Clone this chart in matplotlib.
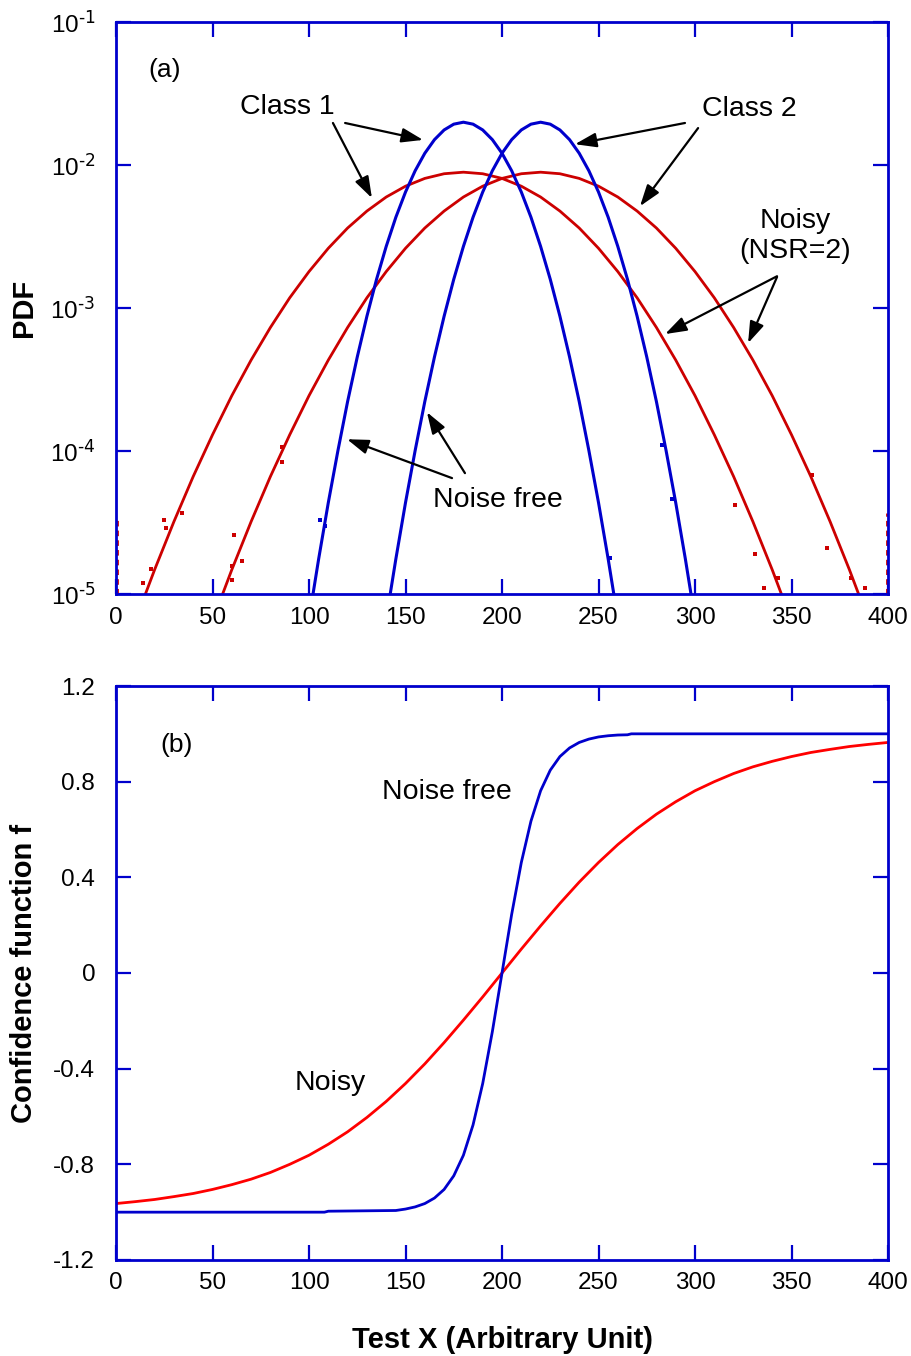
import numpy as np
import matplotlib
matplotlib.use("Agg")
import matplotlib.pyplot as plt
from matplotlib.ticker import FixedLocator, NullLocator, FixedFormatter

plt.rcParams['font.family'] = ['Liberation Sans', 'DejaVu Sans']
plt.rcParams['mathtext.default'] = 'regular'
plt.rcParams['axes.unicode_minus'] = False

BLUE = '#0000cc'
DARK_RED = '#cc0000'
RED = '#ff0000'

# ---- (a) class PDFs, noise free (blue) and noisy NSR=2 (red) ----
clean1_x = [100, 105, 110, 115, 120, 125, 130, 135, 140, 145, 150, 155, 160, 165, 170, 175,
            180, 185, 190, 195, 200, 205, 210, 215, 220, 225, 230, 235, 240, 245, 250, 255, 260]
clean1_pdf = [6.7e-6, 1.76e-5, 4.36e-5, 1.01e-4, 2.22e-4, 4.55e-4, 8.77e-4, 1.59e-3, 2.70e-3,
              4.32e-3, 6.48e-3, 9.13e-3, 1.21e-2, 1.506e-2, 1.761e-2, 1.933e-2, 1.995e-2,
              1.933e-2, 1.761e-2, 1.506e-2, 1.21e-2, 9.13e-3, 6.48e-3, 4.32e-3, 2.70e-3,
              1.59e-3, 8.77e-4, 4.55e-4, 2.22e-4, 1.01e-4, 4.36e-5, 1.76e-5, 6.7e-6]
clean2_x = [140, 145, 150, 155, 160, 165, 170, 175, 180, 185, 190, 195, 200, 205, 210, 215,
            220, 225, 230, 235, 240, 245, 250, 255, 260, 265, 270, 275, 280, 285, 290, 295, 300]
clean2_pdf = [6.7e-6, 1.76e-5, 4.36e-5, 1.01e-4, 2.22e-4, 4.55e-4, 8.77e-4, 1.59e-3, 2.70e-3,
              4.32e-3, 6.48e-3, 9.13e-3, 1.21e-2, 1.506e-2, 1.761e-2, 1.933e-2, 1.995e-2,
              1.933e-2, 1.761e-2, 1.506e-2, 1.21e-2, 9.13e-3, 6.48e-3, 4.32e-3, 2.70e-3,
              1.59e-3, 8.77e-4, 4.55e-4, 2.22e-4, 1.01e-4, 4.36e-5, 1.76e-5, 6.7e-6]

noisy1_x = [10, 20, 30, 40, 50, 60, 70, 80, 90, 100, 110, 120, 130, 140, 150, 160, 170, 180,
            190, 200, 210, 220, 230, 240, 250, 260, 270, 280, 290, 300, 310, 320, 330, 340, 350]
noisy1_pdf = [6.5e-6, 1.48e-5, 3.21e-5, 6.64e-5, 1.30e-4, 2.44e-4, 4.33e-4, 7.32e-4, 1.18e-3,
              1.80e-3, 2.62e-3, 3.63e-3, 4.77e-3, 5.98e-3, 7.12e-3, 8.07e-3, 8.70e-3, 8.92e-3,
              8.70e-3, 8.07e-3, 7.12e-3, 5.98e-3, 4.77e-3, 3.63e-3, 2.62e-3, 1.80e-3, 1.18e-3,
              7.32e-4, 4.33e-4, 2.44e-4, 1.30e-4, 6.64e-5, 3.21e-5, 1.48e-5, 6.5e-6]
noisy2_x = [50, 60, 70, 80, 90, 100, 110, 120, 130, 140, 150, 160, 170, 180, 190, 200, 210, 220,
            230, 240, 250, 260, 270, 280, 290, 300, 310, 320, 330, 340, 350, 360, 370, 380, 390]
noisy2_pdf = noisy1_pdf

# scattered low-count histogram bins out in the tails
tail_red_x = [14.0, 18.1, 24.9, 25.9, 34.2, 60.1, 60.1, 61.1, 65.3, 86.0, 86.0,
              320.7, 331.0, 336.0, 343.0, 360.6, 368.4, 381.0, 388.0]
tail_red_pdf = [1.2e-5, 1.5e-5, 3.3e-5, 2.9e-5, 3.7e-5, 1.56e-5, 1.25e-5, 2.6e-5, 1.7e-5,
                1.07e-4, 8.4e-5, 4.2e-5, 1.9e-5, 1.1e-5, 1.3e-5, 6.8e-5, 2.1e-5, 1.3e-5, 1.1e-5]
tail_blue_x = [105.7, 108.3, 256.0, 282.9, 288.0]
tail_blue_pdf = [3.3e-5, 3.0e-5, 1.8e-5, 1.1e-4, 4.6e-5]

# end bins that pile up at the edges of the range
edge_x = [0.6, 399.4]
edge_pdf = [3.3e-5, 3.7e-5]

# ---- (b) confidence function ----
conf_clean_x = [0, 108, 110, 145, 150, 155, 160, 165, 170, 175, 180, 185, 190, 195, 200,
                205, 210, 215, 220, 225, 230, 235, 240, 245, 250, 255, 260, 265, 267, 400]
conf_clean = [-1.0, -1.0, -0.996, -0.993, -0.987, -0.978, -0.964, -0.941, -0.905, -0.848,
              -0.762, -0.635, -0.462, -0.245, 0.0, 0.245, 0.462, 0.635, 0.762, 0.848, 0.905,
              0.941, 0.964, 0.978, 0.987, 0.992, 0.995, 0.996, 1.0, 1.0]
conf_noisy_x = [0, 10, 20, 30, 40, 50, 60, 70, 80, 90, 100, 110, 120, 130, 140, 150, 160, 170,
                180, 190, 200, 210, 220, 230, 240, 250, 260, 270, 280, 290, 300, 310, 320, 330,
                340, 350, 360, 370, 380, 390, 400]
conf_noisy = [-0.964, -0.956, -0.947, -0.935, -0.922, -0.905, -0.885, -0.862, -0.834, -0.800,
              -0.762, -0.716, -0.664, -0.604, -0.537, -0.462, -0.380, -0.291, -0.197, -0.100,
              0.0, 0.100, 0.197, 0.291, 0.380, 0.462, 0.537, 0.604, 0.664, 0.716, 0.762, 0.800,
              0.834, 0.862, 0.885, 0.905, 0.922, 0.935, 0.947, 0.956, 0.964]

x_ticks = [0, 50, 100, 150, 200, 250, 300, 350, 400]
pdf_ticks = [1e-5, 1e-4, 1e-3, 1e-2, 1e-1]
pdf_tick_labels = [r'$10^{\text{-5}}$', r'$10^{\text{-4}}$', r'$10^{\text{-3}}$',
                   r'$10^{\text{-2}}$', r'$10^{\text{-1}}$']
conf_ticks = [-1.2, -0.8, -0.4, 0, 0.4, 0.8, 1.2]
conf_tick_labels = ['-1.2', '-0.8', '-0.4', '0', '0.4', '0.8', '1.2']

TICK_FS = 17.5
NOTE_FS = 20.5
LABEL_FS = 21


def style_axes(ax):
    for s in ax.spines.values():
        s.set_color(BLUE)
        s.set_linewidth(2.0)
    ax.tick_params(which='major', direction='in', length=11, width=1.6, color=BLUE,
                   top=True, right=True, labelsize=TICK_FS)
    ax.tick_params(axis='x', pad=9)
    ax.tick_params(axis='y', pad=15)


fig = plt.figure(figsize=(9.12, 13.56), dpi=100)
arrow = dict(arrowstyle='-|>,head_length=0.65,head_width=0.22', color='black', lw=1.6,
             shrinkA=0, shrinkB=0, mutation_scale=20)

# panel (a)
ax1 = fig.add_axes([0.1272, 0.5619, 0.8465, 0.4218])
ax1.plot(noisy1_x, noisy1_pdf, color=DARK_RED, lw=2.0)
ax1.plot(noisy2_x, noisy2_pdf, color=DARK_RED, lw=2.0)
ax1.plot(tail_red_x, tail_red_pdf, ls='none', marker='s', ms=2.6, mew=0, color=DARK_RED)
ax1.plot(clean1_x, clean1_pdf, color=BLUE, lw=2.2)
ax1.plot(clean2_x, clean2_pdf, color=BLUE, lw=2.2)
ax1.plot(tail_blue_x, tail_blue_pdf, ls='none', marker='s', ms=2.4, mew=0, color=BLUE)
ax1.vlines(edge_x, 1e-5, edge_pdf, color=DARK_RED, lw=2.0, linestyles=(0, (2, 1.5)))
ax1.set_yscale('log')
ax1.set_xlim(0, 400)
ax1.set_ylim(1e-5, 1e-1)
ax1.xaxis.set_major_locator(FixedLocator(x_ticks))
ax1.yaxis.set_major_locator(FixedLocator(pdf_ticks))
ax1.yaxis.set_major_formatter(FixedFormatter(pdf_tick_labels))
ax1.yaxis.set_minor_locator(NullLocator())
style_axes(ax1)
ax1.set_ylabel('PDF', fontsize=LABEL_FS, fontweight='bold')
ax1.yaxis.set_label_coords(-0.101, 0.5)

ax1.text(25.4, 0.0461, '(a)', fontsize=19, ha='center', va='center')
ax1.text(88.6, 0.0255, 'Class 1', fontsize=NOTE_FS, ha='center', va='center')
ax1.text(328, 0.0247, 'Class 2', fontsize=NOTE_FS, ha='center', va='center')
ax1.text(351.8, 3.19e-3, 'Noisy\n(NSR=2)', fontsize=NOTE_FS, ha='center', va='center',
         linespacing=1.2)
ax1.text(197.9, 4.54e-5, 'Noise free', fontsize=NOTE_FS, ha='center', va='center')

ax1.annotate('', xy=(159.1, 0.0150), xytext=(118.7, 0.0197), arrowprops=arrow)
ax1.annotate('', xy=(132.6, 0.00588), xytext=(112.4, 0.0197), arrowprops=arrow)
ax1.annotate('', xy=(237.8, 0.0140), xytext=(294.8, 0.0197), arrowprops=arrow)
ax1.annotate('', xy=(271.5, 0.00516), xytext=(301.6, 0.01815), arrowprops=arrow)
ax1.annotate('', xy=(284.5, 6.58e-4), xytext=(342.5, 1.67e-3), arrowprops=arrow)
ax1.annotate('', xy=(327.5, 5.69e-4), xytext=(342.5, 1.65e-3), arrowprops=arrow)
ax1.annotate('', xy=(119.7, 1.21e-4), xytext=(174.1, 6.47e-5), arrowprops=arrow)
ax1.annotate('', xy=(161.1, 1.87e-4), xytext=(180.8, 7.01e-5), arrowprops=arrow)

# panel (b)
ax2 = fig.add_axes([0.1272, 0.0708, 0.8465, 0.4233])
ax2.plot(conf_noisy_x, conf_noisy, color=RED, lw=2.0)
ax2.plot(conf_clean_x, conf_clean, color=BLUE, lw=2.0)
ax2.set_xlim(0, 400)
ax2.set_ylim(-1.2, 1.2)
ax2.xaxis.set_major_locator(FixedLocator(x_ticks))
ax2.yaxis.set_major_locator(FixedLocator(conf_ticks))
ax2.yaxis.set_major_formatter(FixedFormatter(conf_tick_labels))
style_axes(ax2)
ax2.set_ylabel('Confidence function f', fontsize=LABEL_FS, fontweight='bold')
ax2.yaxis.set_label_coords(-0.101, 0.5)
ax2.set_xlabel('Test X (Arbitrary Unit)', fontsize=LABEL_FS, fontweight='bold')
ax2.xaxis.set_label_coords(0.5, -0.115)

ax2.text(31.6, 0.954, '(b)', fontsize=19, ha='center', va='center')
ax2.text(171.5, 0.757, 'Noise free', fontsize=NOTE_FS, ha='center', va='center')
ax2.text(110.9, -0.46, 'Noisy', fontsize=NOTE_FS, ha='center', va='center')

fig.savefig('out.png', dpi=100)
